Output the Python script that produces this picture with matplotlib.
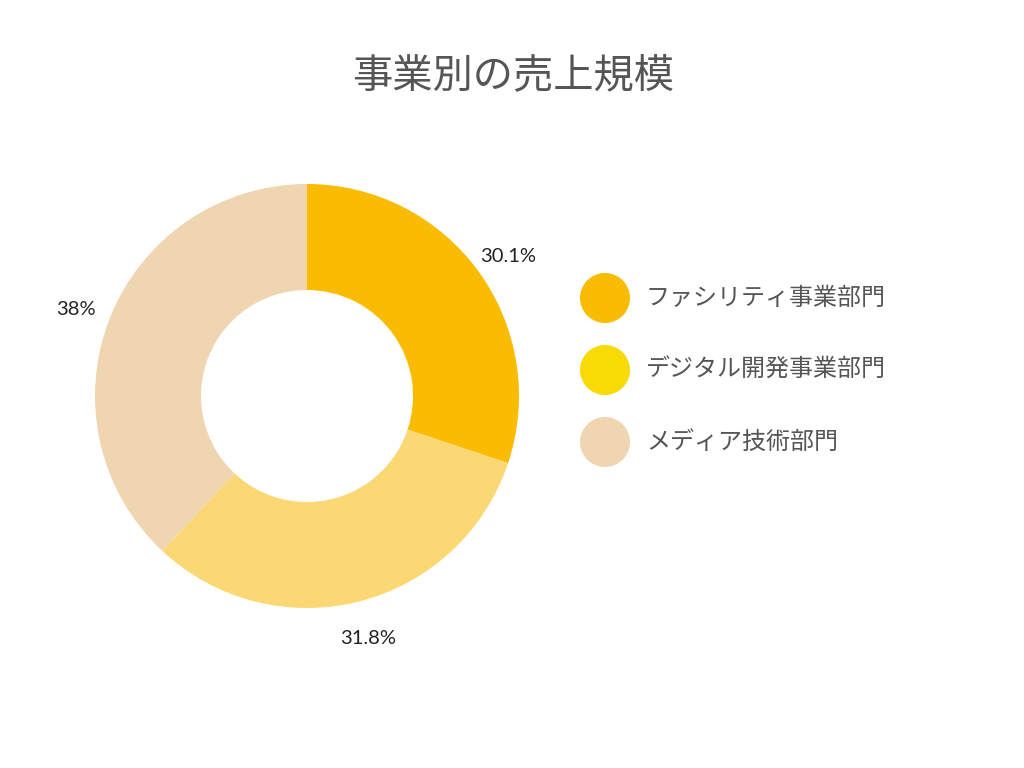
import matplotlib
matplotlib.use("Agg")
import matplotlib.pyplot as plt
from matplotlib.patches import Circle
import numpy as np

plt.rcParams["font.family"] = ["Noto Sans CJK JP", "DejaVu Sans"]

TITLE = "事業別の売上規模"
categories = ["ファシリティ事業部門", "デジタル開発事業部門", "メディア技術部門"]
shares = [30.1, 31.8, 38.0]
share_labels = ["30.1%", "31.8%", "38%"]
slice_colors = ["#F9BC02", "#FCD874", "#EFD5B0"]
legend_colors = ["#F9BC02", "#F8DA05", "#EFD5B0"]

W, H = 1024, 768
fig = plt.figure(figsize=(W / 100, H / 100), dpi=100)
fig.patch.set_facecolor("white")

# donut: centre (307, 396) px, outer radius 212 px
cx, cy, r = 307, 396, 212
ax = fig.add_axes([(cx - r) / W, 1 - (cy + r) / H, 2 * r / W, 2 * r / H])
wedges, _ = ax.pie(shares, colors=slice_colors, startangle=90, counterclock=False,
                   radius=1.0, wedgeprops=dict(width=0.5, linewidth=0))
ax.set_xlim(-1, 1)
ax.set_ylim(-1, 1)
ax.set_aspect("equal")
ax.axis("off")

for w, lab in zip(wedges, share_labels):
    ang = np.deg2rad((w.theta1 + w.theta2) / 2)
    ax.text(1.17 * np.cos(ang), 1.16 * np.sin(ang) - 0.02, lab, ha="center", va="center",
            fontsize=14.5, family="Lato", color="#222222", clip_on=False)

fig.text(513 / W, 1 - 76 / H, TITLE, ha="center", va="center", fontsize=29, color="#555555")

# legend
lax = fig.add_axes([0, 0, 1, 1])
lax.set_xlim(0, W)
lax.set_ylim(H, 0)
lax.axis("off")
for i, (name, col) in enumerate(zip(categories, legend_colors)):
    y = 298 + 72 * i
    lax.add_patch(Circle((605, y), 25, color=col, lw=0))
    lax.text(646, y, name, ha="left", va="center", fontsize=17.3, color="#555555")

fig.savefig("out.png", dpi=100)
